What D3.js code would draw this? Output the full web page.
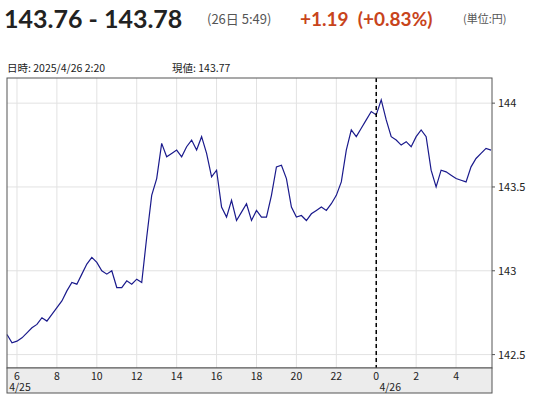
<!DOCTYPE html><html><head><meta charset="utf-8"><script src="https://d3js.org/d3.v7.min.js"></script>
<style>body{margin:0;background:#fff;font-family:"Noto Sans CJK JP","Noto Sans",sans-serif}</style></head><body><svg id="c" width="541" height="400"></svg>
<script>
const times=[5.5,5.75,6,6.25,6.5,6.75,7,7.25,7.5,7.75,8,8.25,8.5,8.75,9,9.25,9.5,9.75,10,10.25,10.5,10.75,11,11.25,11.5,11.75,12,12.25,12.5,12.75,13,13.25,13.5,13.75,14,14.25,14.5,14.75,15,15.25,15.5,15.75,16,16.25,16.5,16.75,17,17.25,17.5,17.75,18,18.25,18.5,18.75,19,19.25,19.5,19.75,20,20.25,20.5,20.75,21,21.25,21.5,21.75,22,22.25,22.5,22.75,23,23.25,23.5,23.75,24,24.25,24.5,24.75,25,25.25,25.5,25.75,26,26.25,26.5,26.75,27,27.25,27.5,27.75,28,28.25,28.5,28.75,29,29.25,29.5,29.75];
const prices=[142.62,142.57,142.58,142.6,142.63,142.66,142.68,142.72,142.7,142.74,142.78,142.82,142.88,142.93,142.92,142.98,143.04,143.08,143.05,143.0,142.98,143.0,142.9,142.9,142.94,142.92,142.95,142.93,143.2,143.45,143.55,143.76,143.68,143.7,143.72,143.68,143.74,143.78,143.72,143.8,143.7,143.56,143.6,143.38,143.32,143.42,143.3,143.35,143.4,143.3,143.36,143.32,143.32,143.45,143.62,143.63,143.55,143.38,143.32,143.33,143.3,143.34,143.36,143.38,143.36,143.4,143.45,143.53,143.72,143.84,143.8,143.85,143.9,143.95,143.93,144.02,143.9,143.8,143.78,143.75,143.77,143.74,143.8,143.84,143.8,143.6,143.5,143.6,143.59,143.57,143.55,143.54,143.53,143.62,143.67,143.7,143.73,143.72];
const xTicks=[6,8,10,12,14,16,18,20,22,24,26,28];
const xTickLabels=["6","8","10","12","14","16","18","20","22","0","2","4"];
const yTicks=[142.5,143,143.5,144];
const svg=d3.select("#c");
const L=7,R=492,T=78,B=368;
const x=d3.scaleLinear().domain([5.5,29.8]).range([L,R]);
const y=d3.scaleLinear().domain([142.42,144.15]).range([B,T]);
svg.append("text").attr("x",4).attr("y",28).attr("font-size",25).attr("font-weight","bold").attr("fill","#222").attr("font-family","Lato,sans-serif").text("143.76 - 143.78");
svg.append("text").attr("x",207).attr("y",24).attr("font-size",13).attr("fill","#555").text("(26日 5:49)");
svg.append("text").attr("x",300).attr("y",26).attr("font-size",19).attr("font-weight","bold").attr("fill","#c8441b").attr("font-family","Lato,sans-serif").attr("xml:space","preserve").style("white-space","pre").text("+1.19  (+0.83%)");
svg.append("text").attr("x",463).attr("y",23).attr("font-size",11).attr("fill","#555").text("(単位:円)");
svg.append("text").attr("x",7).attr("y",72).attr("font-size",10.5).attr("fill","#222").text("日時: 2025/4/26  2:20");
svg.append("text").attr("x",172).attr("y",72).attr("font-size",10.5).attr("fill","#222").text("現値: 143.77");
const g=svg.append("g");
g.selectAll(".vx").data(xTicks).join("line").attr("x1",d=>x(d)).attr("x2",d=>x(d)).attr("y1",T).attr("y2",B).attr("stroke","#e2e2e2");
g.selectAll(".hy").data(yTicks).join("line").attr("x1",L).attr("x2",R).attr("y1",d=>y(d)).attr("y2",d=>y(d)).attr("stroke","#e2e2e2");
svg.append("path").datum(times.map((t,i)=>[t,prices[i]])).attr("fill","none").attr("stroke","#1a1a8c").attr("stroke-width",1.2)
 .attr("d",d3.line().x(d=>x(d[0])).y(d=>y(d[1])));
svg.append("line").attr("x1",x(24)).attr("x2",x(24)).attr("y1",T).attr("y2",B).attr("stroke","#000").attr("stroke-width",1.5).attr("stroke-dasharray","4,3");
svg.append("rect").attr("x",L).attr("y",T).attr("width",R-L).attr("height",B-T).attr("fill","none").attr("stroke","#555");
svg.append("rect").attr("x",L).attr("y",B).attr("width",R-L).attr("height",25).attr("fill","#ececec").attr("stroke","#555");
svg.selectAll(".xl").data(xTicks).join("text").attr("x",d=>x(d)).attr("y",B+12).attr("text-anchor","middle").attr("font-size",10.5).attr("fill","#222").text((d,i)=>xTickLabels[i]);
svg.append("text").attr("x",x(6)+3).attr("y",B+23).attr("text-anchor","middle").attr("font-size",10.5).attr("fill","#222").text("4/25");
svg.append("text").attr("x",x(24)+14).attr("y",B+23).attr("text-anchor","middle").attr("font-size",10.5).attr("fill","#222").text("4/26");
svg.selectAll(".yl").data(yTicks).join("text").attr("x",R+6).attr("y",d=>y(d)+4).attr("font-size",11).attr("fill","#222").text(d=>d);
svg.selectAll(".yt").data(yTicks).join("line").attr("x1",R).attr("x2",R+3).attr("y1",d=>y(d)).attr("y2",d=>y(d)).attr("stroke","#555");
</script></body></html>
